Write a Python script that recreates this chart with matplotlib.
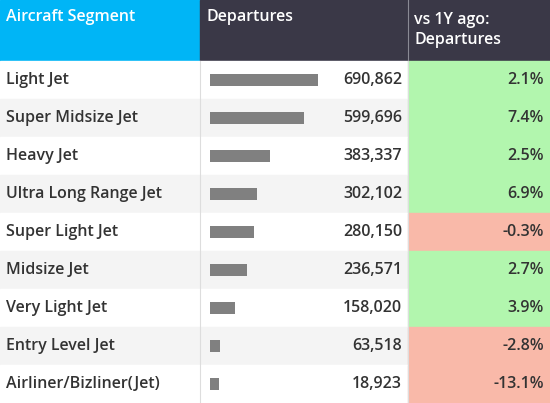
import matplotlib
matplotlib.use("Agg")
import matplotlib.pyplot as plt
from matplotlib.patches import Rectangle

segments = ["Light Jet", "Super Midsize Jet", "Heavy Jet", "Ultra Long Range Jet",
            "Super Light Jet", "Midsize Jet", "Very Light Jet", "Entry Level Jet",
            "Airliner/Bizliner(Jet)"]
departures = [690862, 599696, 383337, 302102, 280150, 236571, 158020, 63518, 18923]
yoy = [2.1, 7.4, 2.5, 6.9, -0.3, 2.7, 3.9, -2.8, -13.1]
headers = ["Aircraft Segment", "Departures", "vs 1Y ago:\nDepartures"]

plt.rcParams['font.family'] = ['Open Sans', 'DejaVu Sans']
W, H = 550, 403
fig = plt.figure(figsize=(5.5, 4.03), dpi=100)
ax = fig.add_axes([0, 0, 1, 1])
ax.set_xlim(0, W); ax.set_ylim(H, 0); ax.axis('off')

hh = 61; rh = 38
c1, c2 = 200, 408
txt = '#333333'
fs = 11.5
ax.add_patch(Rectangle((0, 0), c1, hh, color='#00B5F6'))
ax.add_patch(Rectangle((c1, 0), W - c1, hh, color='#3A3847'))
ax.plot([c2, c2], [0, hh], color='#8a8a95', lw=0.8)
ax.text(6, 17, headers[0], color='white', fontsize=fs, weight='semibold', va='center')
ax.text(c1 + 7, 17, headers[1], color='white', fontsize=fs, weight='semibold', va='center')
ax.text(c2 + 6, 30, headers[2], color='white', fontsize=fs, weight='semibold', va='center', linespacing=1.35)

maxv = max(departures)
for i, (s, d, p) in enumerate(zip(segments, departures, yoy)):
    y0 = hh + i * rh
    yc = y0 + rh / 2
    bg = 'white' if i % 2 == 0 else '#F4F4F4'
    ax.add_patch(Rectangle((0, y0), c2, rh, color=bg))
    ax.add_patch(Rectangle((c2, y0), W - c2, rh, color='#B2F6AE' if p >= 0 else '#F9B9A9'))
    ax.text(6, yc, s, color=txt, fontsize=fs, weight='semibold', va='center')
    ax.text(c2 - 6, yc, f"{d:,}", color=txt, fontsize=fs, weight='semibold', va='center', ha='right')
    ax.text(W - 6, yc, f"{p:.1f}%", color=txt, fontsize=fs, weight='semibold', va='center', ha='right')
ax.barh([hh + i * rh + rh / 2 for i in range(len(departures))],
        [max(d / maxv * 108, 9) for d in departures], left=210, height=12, color='#808080')
for x in (c1, c2):
    ax.plot([x, x], [hh, H], color='#DDDDDD', lw=0.8)
fig.savefig("out.png", dpi=100)
